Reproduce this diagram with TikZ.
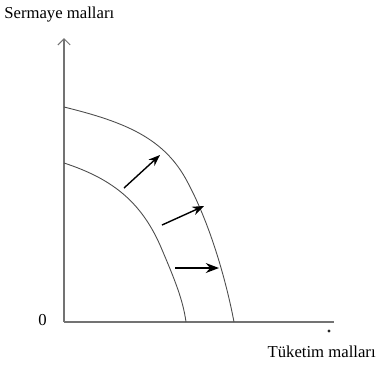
\documentclass[tikz,border=0pt]{standalone}
\usepackage{fontspec}
\setmainfont{Liberation Serif}
\usetikzlibrary{arrows.meta, positioning}
\colorlet{axisgray}{black!55}
\colorlet{curvegray}{black!70}

\begin{document}
\begin{tikzpicture}[x=0.02cm, y=-0.02cm, >=Stealth,
    lbl/.style={font=\fontsize{9.5}{11}\selectfont, inner sep=0pt}]
    \useasboundingbox (0,0) rectangle (377,370);

    % Axes
    \coordinate (origin) at (64,322);
    \coordinate (ytop) at (64,38);
    \coordinate (xend) at (334,322);
    \draw[axisgray, line width=0.6pt] (origin) -- (xend);
    \draw[axisgray, line width=0.6pt, -{Straight Barb[angle=90:5pt]}] (origin) -- (ytop);
    \fill[black!85] (329,331) circle (1.7);

    % Labels
    \node[lbl, anchor=west] (ylabel) at (4,15) {Sermaye malları};
    \node[lbl, anchor=east] (xlabel) at (376,352) {Tüketim malları};
    \node[lbl, anchor=east] (zero) at (47,320) {0};

    % Frontiers
    \draw[curvegray, line width=0.5pt] (64,163) .. controls (110,178) and (140,200) .. (160,245)
      .. controls (175,280) and (183,300) .. (186,322);
    \draw[curvegray, line width=0.5pt] (64,107) .. controls (125,122) and (165,138) .. (188,183)
      .. controls (213,230) and (228,290) .. (234,322);

    % Shift arrows
    \coordinate (a1) at (124,188); \coordinate (b1) at (160,155);
    \coordinate (a2) at (162,225); \coordinate (b2) at (204,206);
    \coordinate (a3) at (175,268); \coordinate (b3) at (219,268);
    \draw[->, line width=0.8pt] (a1) -- (b1);
    \draw[->, line width=0.8pt] (a2) -- (b2);
    \draw[->, line width=1pt] (a3) -- (b3);
\end{tikzpicture}
\end{document}
